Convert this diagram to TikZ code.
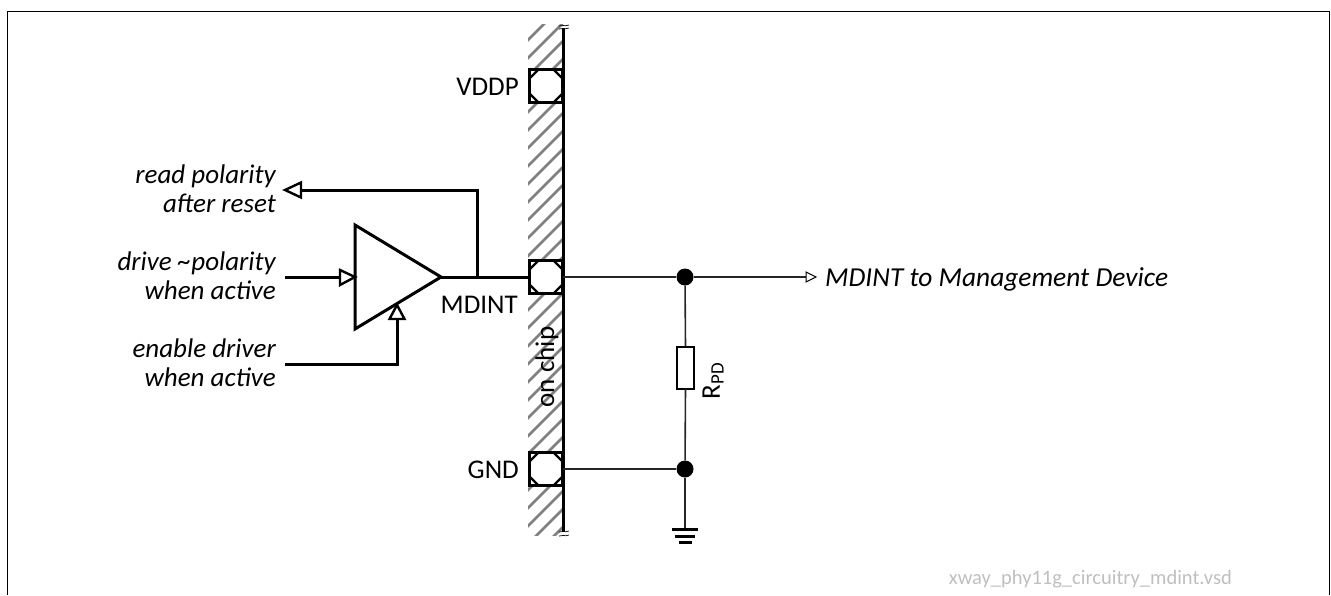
\documentclass[tikz,border=0pt]{standalone}
\usepackage{fontspec}
\setmainfont{Carlito}
\tikzset{
  x=1pt,y=-1pt,
  heavy/.style={line width=3pt,black},
  thin wire/.style={line width=1.6pt,black!85},
  lbl/.style={font=\fontsize{27}{29}\selectfont,inner sep=0pt},
  lbli/.style={font=\fontsize{27}{29}\selectfont\itshape,inner sep=0pt,align=right,anchor=east},
  dot/.style={circle,fill=black,inner sep=0pt,minimum size=17pt},
  tipw/.style={line width=2.4pt,draw=black,fill=white,line join=miter},
}
\begin{document}
\begin{tikzpicture}
\useasboundingbox (0,0) rectangle (1331,595);
% frame
\draw[line width=1.5pt] (7.5,595) -- (7.5,11.5) -- (1329.5,11.5) -- (1329.5,595);
% hatch
\begin{scope}
\clip (528,24) rectangle (563,535);
\foreach \y in {24,42,...,600} \draw[line width=2.6pt,black!50] (526,\y) -- (566,\y-40);
\end{scope}
\coordinate (railtop) at (563,28);
\coordinate (railbot) at (563,532);
\draw[heavy] (railtop) -- (railbot);
\draw[line width=.7pt] (559,26) .. controls (562,24) and (564,27) .. (569,25);
\draw[line width=.7pt] (559,29) .. controls (562,27) and (564,30) .. (569,28);
\draw[line width=.7pt] (559,532) .. controls (562,530) and (564,533) .. (569,531);
\draw[line width=.7pt] (559,536) .. controls (562,534) and (564,537) .. (569,535);
% pads
\foreach \n/\yy in {padv/86,padm/277,padg/469}{
  \node[draw=black,line width=3pt,fill=white,minimum size=33pt,inner sep=0pt,outer sep=0pt,rectangle] (\n) at (546,\yy) {};
  \draw[line width=2.4pt,black] (\n.north west)++(0,9) -- ++(9,-9) (\n.north east)++(0,9) -- ++(-9,-9)
     (\n.south west)++(0,-9) -- ++(9,9) (\n.south east)++(0,-9) -- ++(-9,9);
}
\node[lbl,anchor=east] (lv) at (519,87) {VDDP};
\node[lbl,anchor=east] (lm) at (518,305) {MDINT};
\node[lbl,anchor=east] (lg) at (519,470) {GND};
\node[lbl,rotate=90] (chip) at (547,367) {on chip};
% driver
\coordinate (tl) at (355,225);
\coordinate (bl) at (355,329);
\coordinate (tr) at (441,277);
\draw[line width=3pt,line join=miter,fill=white] (tl) -- (tr) -- (bl) -- cycle;
\coordinate (j1) at (477,277);
\draw[heavy] (tr) -- (padm.west);
\draw[heavy] (j1) -- (477,190) -- (300,190);
\draw[tipw] (285,190) -- (301,182.5) -- (301,197.5) -- cycle;
\coordinate (inL) at (285,277);
\draw[heavy] (inL) -- (340,277);
\draw[tipw] (355,277) -- (340,270) -- (340,285) -- cycle;
\coordinate (enL) at (285,364);
\draw[heavy] (enL) -- (397,364) -- (397,318);
\draw[tipw] (397,305) -- (389.5,319) -- (404.5,319) -- cycle;
\node[lbli] (t1) at (276,189) {read polarity\\after reset};
\node[lbli] (t2) at (276,276) {drive \textasciitilde polarity\\when active};
\node[lbli] (t3) at (276,363) {enable driver\\when active};
% right side
\node[dot] (d1) at (685,277) {};
\node[dot] (d2) at (685,469) {};
\coordinate (arr) at (806,277);
\draw[thin wire] (563,277) -- (d1);
\draw[thin wire] (d1) -- (arr);
\draw[line width=1pt,draw=black,fill=white] (816,277) -- (806,272) -- (806,282) -- cycle;
\node[lbl,font=\fontsize{27.4}{29}\selectfont\itshape,anchor=west] (mg) at (825,279) {MDINT to Management Device};
\node[draw=black,line width=2pt,fill=white,minimum width=17pt,minimum height=42pt,inner sep=0pt,outer sep=0pt] (r) at (685.5,367.5) {};
\draw[thin wire] (d1) -- (r.north);
\draw[thin wire] (r.south) -- (d2);
\draw[thin wire] (563,469) -- (d2);
\coordinate (gnd) at (685,529);
\draw[thin wire] (d2) -- (gnd);
\draw[line width=3pt] (672,529.5) -- (698,529.5);
\draw[line width=3pt] (675,536) -- (695,536);
\draw[line width=3pt] (679,542.5) -- (692,542.5);
\node[lbl,rotate=90,anchor=center] (rpd) at (713,381) {R\textsubscript{PD}};
\node[inner sep=0pt,anchor=east,text=black!25,font=\fontsize{20.5}{24}\selectfont] (fn) at (1232,579) {xway\_phy11g\_circuitry\_mdint.vsd};
\end{tikzpicture}
\end{document}
